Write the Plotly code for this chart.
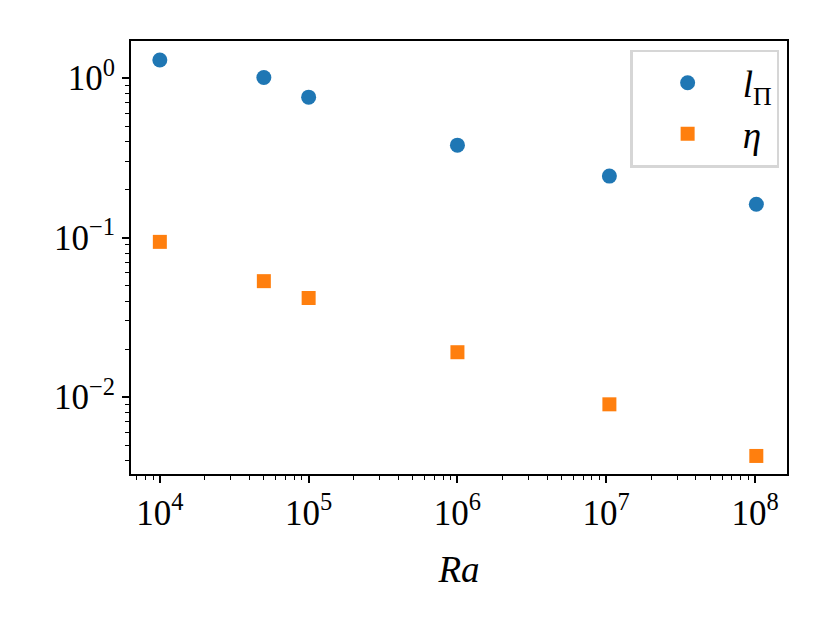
import plotly.graph_objects as go
import numpy as np

ra = [1e4, 5e4, 1e5, 1e6, 1.05e7, 1.02e8]
l_pi = [1.30, 1.01, 0.76, 0.38, 0.243, 0.162]
eta = [0.094, 0.0533, 0.0418, 0.0191, 0.0090, 0.00427]

x_tickvals = [1e4, 1e5, 1e6, 1e7, 1e8]
x_ticktext = ["10<sup>4</sup>", "10<sup>5</sup>", "10<sup>6</sup>", "10<sup>7</sup>", "10<sup>8</sup>"]
y_tickvals = [1e-2, 1e-1, 1e0]
y_ticktext = ["10<sup>−2</sup>", "10<sup>−1</sup>", "10<sup>0</sup>"]

x_minor = [m * 10.0 ** d for d in range(3, 9) for m in range(2, 10)]
y_minor = [m * 10.0 ** d for d in range(-3, 1) for m in range(2, 10)]

FONT = "Liberation Serif"

fig = go.Figure()
fig.add_trace(go.Scatter(x=ra, y=l_pi, mode="markers", name="<i>l</i><sub>Π</sub>",
                         marker=dict(symbol="circle", size=15, color="#1f77b4")))
fig.add_trace(go.Scatter(x=ra, y=eta, mode="markers", name="<i>η</i>",
                         marker=dict(symbol="square", size=14, color="#ff7f0e")))

axis_common = dict(
    type="log", showgrid=False, zeroline=False,
    showline=True, linecolor="black", linewidth=2, mirror=True,
    ticks="outside", ticklen=7, tickwidth=1.6, tickcolor="black",
    tickfont=dict(family=FONT, size=35, color="black"),
)

fig.update_xaxes(**axis_common, range=[np.log10(6.4e3), np.log10(1.64e8)],
                 tickvals=x_tickvals, ticktext=x_ticktext,
                 minor=dict(tickvals=x_minor, ticks="outside", ticklen=4, tickwidth=1.2,
                            tickcolor="black", showgrid=False),
                 title=dict(text="<i>Ra</i>", font=dict(family=FONT, size=37, color="black"), standoff=24))
fig.update_yaxes(**axis_common, range=[np.log10(3.29e-3), np.log10(1.71)],
                 tickvals=y_tickvals, ticktext=y_ticktext,
                 minor=dict(tickvals=y_minor, ticks="outside", ticklen=4, tickwidth=1.2,
                            tickcolor="black", showgrid=False))

fig.update_layout(
    width=829, height=618,
    margin=dict(l=123, r=50, t=33, b=152),
    paper_bgcolor="white", plot_bgcolor="white",
    font=dict(family=FONT, color="black"),
    legend=dict(x=0.988, y=0.98, xanchor="right", yanchor="top",
                bgcolor="rgba(255,255,255,0.8)", bordercolor="#d6d6d6", borderwidth=2.5,
                font=dict(family=FONT, size=37, color="black"),
                itemwidth=100),
    showlegend=True,
)

fig.write_html("out.html")
